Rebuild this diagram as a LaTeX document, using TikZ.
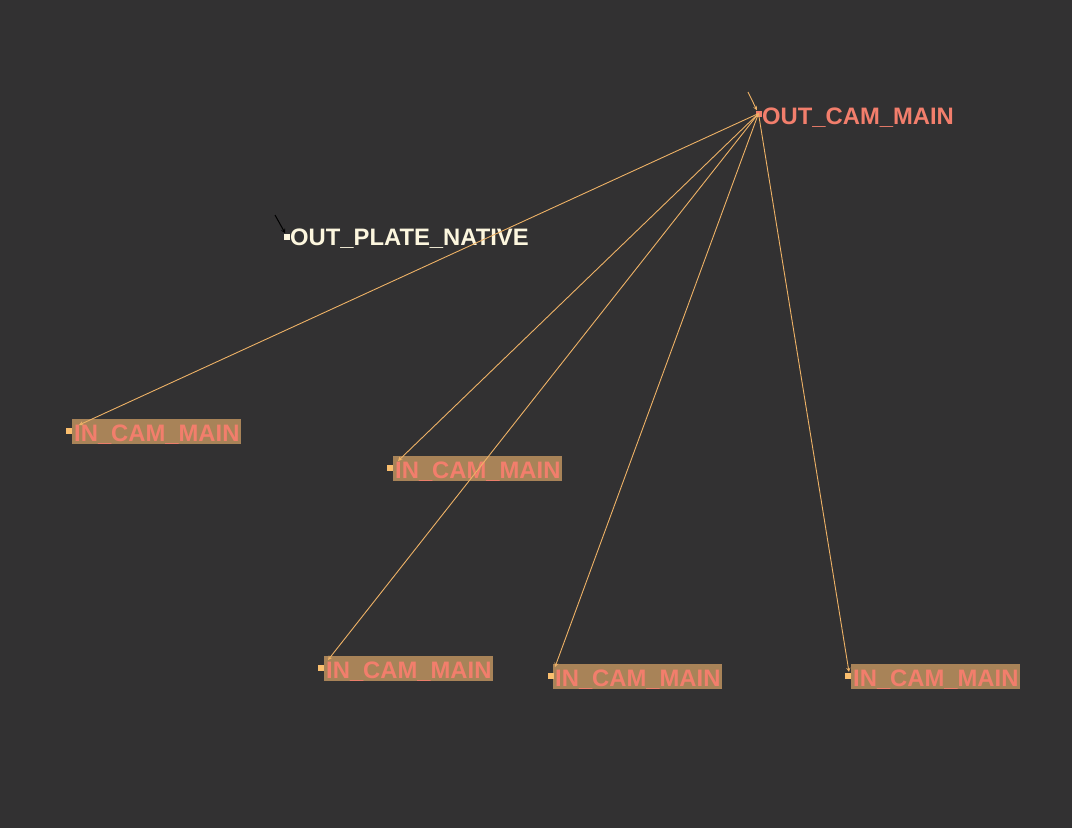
\documentclass[tikz,border=0pt]{standalone}
\usepackage{fontspec}
\setmainfont{Liberation Sans}
\usetikzlibrary{arrows}
\definecolor{bg}{RGB}{50,49,50}
\definecolor{salmon}{RGB}{242,126,108}
\definecolor{tan}{RGB}{168,131,88}
\definecolor{wire}{RGB}{238,178,102}
\definecolor{knob}{RGB}{250,190,110}
\definecolor{cream}{RGB}{252,246,222}
\begin{document}
\begin{tikzpicture}[x=1pt,y=-1pt]
\tikzstyle{label} = [inner sep=0pt, anchor=base west,
font=\fontsize{23.8}{26}\selectfont\bfseries]
\tikzstyle{outcam} = [label, text=salmon]
\tikzstyle{outplate} = [label, text=cream]
\tikzstyle{incam} = [label, fill=tan, text=salmon, inner xsep=2pt,
text height=22.5pt, text depth=2.5pt]
\tikzstyle{dot} = [rectangle, inner sep=0pt, minimum size=6pt]
\tikzstyle{line} = [draw=wire, line width=0.9pt, -stealth]
\fill[bg] (0,0) rectangle (1072,828);
\useasboundingbox (0,0) rectangle (1072,828);
% outputs
\node [outcam] (ocam) at (762,124) {OUT\_CAM\_MAIN};
\node [dot, fill=salmon] (ocamdot) at (758.5,113.5) {};
\node [outplate] (oplate) at (290,245) {OUT\_PLATE\_NATIVE};
\node [dot, fill=cream] (oplatedot) at (287,236.5) {};
\coordinate (ocamfrom) at (748,92);
\coordinate (oplatefrom) at (275,215);
% inputs
\node [incam] (in1) at (72,441.5) {IN\_CAM\_MAIN};
\node [incam] (in2) at (393,478) {IN\_CAM\_MAIN};
\node [incam] (in3) at (324,678) {IN\_CAM\_MAIN};
\node [incam] (in4) at (553,686) {IN\_CAM\_MAIN};
\node [incam] (in5) at (851,686) {IN\_CAM\_MAIN};
\foreach \n/\x/\y in {1/69/431, 2/390/468, 3/321/668, 4/551/676, 5/848/676}
  \node [dot, fill=knob] (in\n dot) at (\x,\y) {};
\coordinate (in1end) at (79,425);
\coordinate (in2end) at (398,461);
\coordinate (in3end) at (328,660);
\coordinate (in4end) at (555,667);
\coordinate (in5end) at (849,672);
% wires
\path [line] (ocamfrom) -- (ocamdot);
\path [draw=black, line width=1pt, -stealth] (oplatefrom) -- (oplatedot);
\foreach \n in {1,...,5}
  \path [line] (ocamdot.center) -- (in\n end);
\end{tikzpicture}
\end{document}
